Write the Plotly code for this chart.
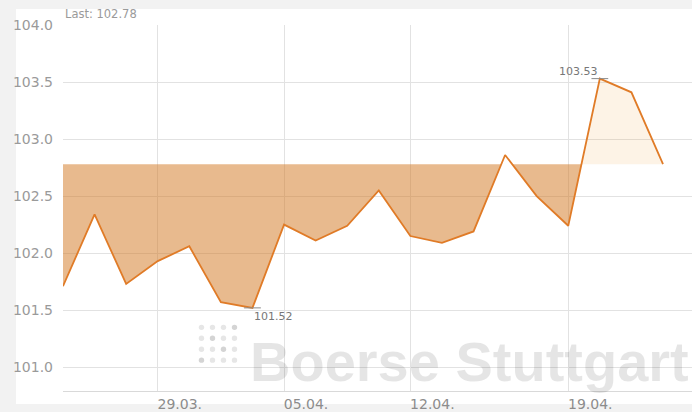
import plotly.graph_objects as go

# ---- data ----
values = [101.71, 102.34, 101.73, 101.93, 102.06, 101.57, 101.52, 102.25, 102.11, 102.24,
          102.55, 102.15, 102.09, 102.19, 102.86, 102.50, 102.24, 103.53, 103.41, 102.78]
tick_idx = [3, 7, 11, 16]
tick_labels = ["29.03.", "05.04.", "12.04.", "19.04."]
y_ticks = [101.0, 101.5, 102.0, 102.5, 103.0, 103.5, 104.0]

x = list(range(len(values)))
base = values[-1]  # "Last" value used as threshold

# ---- figure geometry ----
W, H = 692, 412
ML, MR, MT, MB = 63, 0, 25, 19
PW, PH = W - ML - MR, H - MT - MB


def px_x(p):
    return (p - ML) / PW


def px_y(p):
    return (H - MB - p) / PH


# path with crossing points of the threshold inserted
xs, ys = [x[0]], [values[0]]
cross = []
for i in range(1, len(values)):
    a, b = values[i - 1], values[i]
    if (a - base) * (b - base) < 0:
        t = (base - a) / (b - a)
        xs.append(x[i - 1] + t)
        ys.append(base)
        cross.append(len(xs) - 1)
    xs.append(x[i])
    ys.append(b)

split = cross[-1]
dark_x = xs[:split + 1] + [x[0]]
dark_y = [min(v, base) for v in ys[:split + 1]] + [base]
light_x = xs[split:]
light_y = [max(v, base) for v in ys[split:]]

fig = go.Figure()
fig.add_trace(go.Scatter(x=dark_x, y=dark_y, mode="lines", fill="toself",
                         fillcolor="rgba(209,117,29,0.5)", line=dict(width=0),
                         hoverinfo="skip", showlegend=False))
fig.add_trace(go.Scatter(x=light_x, y=light_y, mode="lines", fill="toself",
                         fillcolor="rgba(240,160,60,0.13)", line=dict(width=0),
                         hoverinfo="skip", showlegend=False))
fig.add_trace(go.Scatter(x=x, y=values, mode="lines",
                         line=dict(color="#e07b27", width=1.8),
                         showlegend=False))

imax = max(range(len(values)), key=lambda i: values[i])
imin = min(range(len(values)), key=lambda i: values[i])
fig.add_trace(go.Scatter(x=[imax, imin], y=[values[imax], values[imin]], mode="markers",
                         marker=dict(symbol="line-ew", size=12,
                                     line=dict(color="#8a8a8a", width=1)),
                         hoverinfo="skip", showlegend=False, cliponaxis=False))

shapes = [
    dict(type="rect", xref="paper", yref="paper", layer="below",
         x0=px_x(16), x1=px_x(W + 2), y0=px_y(406), y1=px_y(9),
         fillcolor="white", line=dict(width=0)),
]
# watermark logo dots (decoration)
dot_cx = [201.5, 212.5, 223.5, 234.5]
dot_cy = [329, 340, 351, 362]
dark_dots = {(0, 3), (1, 1), (2, 2), (3, 0)}
for r, cy in enumerate(dot_cy):
    for c, cx in enumerate(dot_cx):
        dark = (r, c) in dark_dots
        shapes.append(dict(type="circle", xref="paper", yref="paper", layer="below",
                           x0=px_x(cx - 2.7), x1=px_x(cx + 2.7),
                           y0=px_y(cy + 2.7), y1=px_y(cy - 2.7),
                           fillcolor="#d4d4d4" if dark else "#e6e6e6",
                           line=dict(width=0)))

annotations = [
    dict(text="Boerse Stuttgart", xref="paper", yref="paper",
         x=px_x(248), y=px_y(363), xanchor="left", yanchor="middle",
         showarrow=False, font=dict(family="Liberation Sans", size=56, weight="bold",
                                    color="rgba(0,0,0,0.1)")),
    dict(text=f"Last: {base:.2f}", xref="paper", yref="paper",
         x=px_x(63), y=px_y(14), xanchor="left", yanchor="middle",
         showarrow=False, font=dict(family="DejaVu Sans", size=11.5, color="#9a9a9a")),
    dict(text=f"{values[imax]:.2f}", x=imax, y=values[imax], xanchor="right",
         yanchor="bottom", yshift=-1, xshift=0, showarrow=False,
         font=dict(family="DejaVu Sans", size=11, color="#777777")),
    dict(text=f"{values[imin]:.2f}", x=imin, y=values[imin], xanchor="left",
         yanchor="top", yshift=0, xshift=0, showarrow=False,
         font=dict(family="DejaVu Sans", size=11, color="#777777")),
]

fig.update_layout(
    width=W, height=H,
    margin=dict(l=ML, r=MR, t=MT, b=MB, pad=0),
    paper_bgcolor="#f2f2f2",
    plot_bgcolor="rgba(0,0,0,0)",
    shapes=shapes,
    annotations=annotations,
    font=dict(family="DejaVu Sans", color="#999999"),
    xaxis=dict(range=[0, (W - MR - ML) / ((663 - 63) / 19)], tickmode="array",
               tickvals=tick_idx, ticktext=tick_labels,
               showgrid=True, gridcolor="#e2e2e2", gridwidth=1,
               showline=True, linecolor="#d9d9d9", linewidth=1,
               zeroline=False, ticks="", ticklabelshift=22,
               tickfont=dict(size=14, color="#8c8c8c")),
    yaxis=dict(range=[101.0 - 24 / 115, 104.0], tickmode="array",
               tickvals=y_ticks, ticktext=[f"{v:.1f}" for v in y_ticks],
               showgrid=True, gridcolor="#e2e2e2", gridwidth=1,
               zeroline=False, ticks="", ticklabelstandoff=9,
               tickfont=dict(size=14, color="#9a9a9a")),
    showlegend=False,
)

fig.write_html("out.html", config={"displayModeBar": False},
               post_script="document.body.style.margin='0px';document.body.style.overflow='hidden';")
